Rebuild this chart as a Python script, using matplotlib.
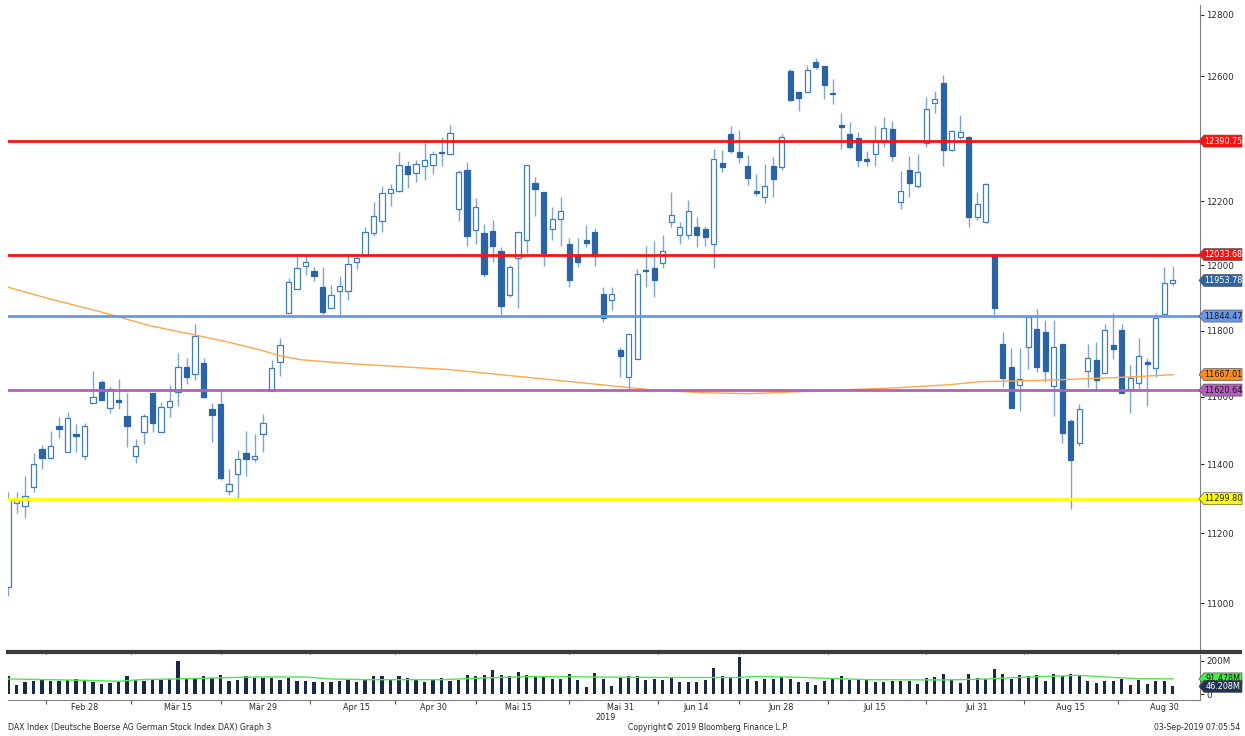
import numpy as np
import pandas as pd
import matplotlib.pyplot as plt
import matplotlib.transforms as mtransforms
from matplotlib.lines import Line2D
from matplotlib.patches import Polygon
from matplotlib.ticker import FixedLocator, NullLocator, FixedFormatter

# trading days in the chart (15 Feb - 2 Sep 2019, Xetra holidays removed)
dates = pd.bdate_range("2019-02-15", "2019-09-02")
dates = dates.drop(pd.to_datetime(["2019-04-19", "2019-04-22", "2019-05-01", "2019-06-10"]))

opens = [11045, 11288, 11278, 11335, 11447, 11418, 11513, 11438, 11489, 11424,
         11582, 11645, 11567, 11591, 11543, 11424, 11496, 11612, 11496, 11570,
         11615, 11690, 11670, 11703, 11564, 11579, 11323, 11371, 11435, 11415,
         11489, 11618, 11706, 11853, 11926, 11997, 11982, 11932, 11868, 11920,
         11920, 12012, 12031, 12100, 12137, 12226, 12232, 12310, 12290, 12313,
         12316, 12355, 12348, 12175, 12300, 12109, 12100, 12106, 12046, 11909,
         12022, 12078, 12258, 12229, 12112, 12143, 12065, 12031, 12078, 12103,
         11912, 11893, 11742, 11661, 11715, 11985, 11991, 12006, 12134, 12093,
         12093, 12121, 12112, 12068, 12320, 12413, 12355, 12310, 12232, 12213,
         12310, 12307, 12616, 12549, 12549, 12645, 12632, 12546, 12443, 12414,
         12401, 12333, 12349, 12388, 12430, 12197, 12300, 12248, 12385, 12513,
         12577, 12362, 12404, 12404, 12150, 12134, 12033.68, 11760, 11691, 11636,
         11751, 11806, 11797, 11633, 11760, 11527, 11462, 11679, 11712, 11673,
         11757, 11803, 11624, 11642, 11706, 11688, 11850, 11945]
highs = [11320, 11318, 11366, 11435, 11456, 11500, 11540, 11555, 11519, 11522,
         11678, 11651, 11630, 11654, 11612, 11474, 11549, 11612, 11585, 11636,
         11732, 11717, 11821, 11718, 11582, 11624, 11388, 11444, 11500, 11491,
         11549, 11712, 11778, 11962, 12034, 12028, 11994, 11994, 11941, 11967,
         12034, 12034, 12118, 12197, 12248, 12255, 12355, 12326, 12329, 12384,
         12358, 12404, 12441, 12300, 12323, 12210, 12128, 12140, 12056, 12000,
         12103, 12316, 12277, 12229, 12181, 12213, 12084, 12084, 12125, 12115,
         11935, 11935, 11751, 11791, 11988, 12059, 12075, 12096, 12228, 12134,
         12203, 12150, 12124, 12365, 12361, 12440, 12427, 12345, 12287, 12319,
         12339, 12413, 12622, 12549, 12636, 12658, 12632, 12591, 12481, 12453,
         12420, 12358, 12440, 12467, 12456, 12297, 12342, 12349, 12533, 12552,
         12603, 12427, 12475, 12407, 12229, 12258, 12034, 11795, 11748, 11748,
         11841, 11865, 11833, 11833, 11760, 11533, 11579, 11760, 11766, 11821,
         11853, 11821, 11697, 11778, 11718, 11853, 11994, 11997]
lows = [11020, 11258, 11244, 11320, 11388, 11415, 11477, 11436, 11438, 11412,
        11582, 11591, 11553, 11564, 11451, 11403, 11459, 11496, 11496, 11540,
        11573, 11639, 11651, 11597, 11465, 11355, 11312, 11303, 11365, 11406,
        11438, 11618, 11664, 11853, 11926, 11970, 11953, 11850, 11868, 11841,
        11894, 11988, 12031, 12090, 12103, 12184, 12229, 12242, 12261, 12268,
        12287, 12310, 12348, 12138, 12059, 12065, 11963, 12012, 11844, 11903,
        11868, 12037, 12153, 11997, 12078, 12059, 11935, 11994, 12056, 11997,
        11826, 11862, 11661, 11624, 11715, 11935, 11903, 11991, 12121, 12068,
        12081, 12056, 12059, 11991, 12294, 12352, 12320, 12252, 12216, 12194,
        12213, 12300, 12520, 12487, 12549, 12622, 12526, 12510, 12365, 12365,
        12307, 12313, 12310, 12371, 12326, 12175, 12213, 12242, 12371, 12481,
        12310, 12358, 12398, 12118, 12140, 12131, 11841, 11630, 11567, 11558,
        11685, 11676, 11646, 11544, 11462, 11271, 11453, 11630, 11624, 11673,
        11715, 11611, 11552, 11624, 11573, 11661, 11850, 11938]
closes = [11299.80, 11300, 11308, 11400, 11418, 11453, 11504, 11537, 11483, 11513,
          11600, 11591, 11624, 11585, 11513, 11453, 11543, 11522, 11570, 11588,
          11690, 11660, 11785, 11600, 11546, 11361, 11344, 11415, 11415, 11424,
          11522, 11687, 11755, 11950, 11991, 12012, 11967, 11856, 11909, 11938,
          12003, 12024, 12103, 12153, 12226, 12239, 12316, 12287, 12319, 12332,
          12348, 12352, 12418, 12291, 12090, 12181, 11975, 12059, 11874, 11994,
          12103, 12316, 12239, 12040, 12146, 12168, 11956, 12012, 12071, 12028,
          11838, 11912, 11724, 11791, 11975, 11982, 11954, 12046, 12156, 12118,
          12168, 12096, 12087, 12335, 12307, 12358, 12339, 12274, 12226, 12248,
          12271, 12404, 12523, 12529, 12619, 12629, 12571, 12543, 12437, 12371,
          12329, 12326, 12391, 12434, 12342, 12232, 12258, 12294, 12494, 12526,
          12362, 12424, 12420, 12150, 12191, 12255, 11869, 11658, 11567, 11654,
          11841, 11691, 11679, 11751, 11494, 11412, 11565, 11718, 11651, 11803,
          11745, 11611, 11658, 11724, 11700, 11838, 11945, 11953.78]
volumes_m = [111, 57, 73, 77, 87, 77, 81, 83, 91, 87, 75, 61, 67, 71, 107, 87, 77, 91, 85, 91,
             202, 93, 93, 107, 97, 117, 81, 87, 107, 97, 97, 97, 83, 97, 81, 77, 71, 71, 73, 79,
             93, 71, 87, 107, 111, 83, 111, 97, 91, 73, 83, 97, 81, 87, 115, 107, 117, 147, 115, 111,
             131, 117, 111, 111, 93, 93, 123, 87, 42, 127, 93, 46, 103, 107, 111, 87, 91, 83, 97, 71,
             71, 71, 87, 158, 107, 101, 222, 91, 77, 91, 91, 103, 93, 73, 71, 57, 81, 93, 111, 83,
             83, 83, 73, 73, 77, 77, 81, 61, 97, 101, 123, 83, 67, 123, 97, 91, 152, 123, 91, 115,
             111, 115, 81, 123, 111, 123, 117, 77, 67, 77, 77, 91, 57, 83, 63, 81, 81, 46.208]

# 200-day average (orange) read at a few positions
ma_idx = [0, 4.9, 10.8, 16.7, 21.8, 26.1, 29.6, 32, 34.4, 40.2, 46.1, 52, 57.9, 63.8,
          69.6, 75.5, 81.4, 87.3, 93.2, 99.1, 104.9, 110.8, 114.4, 120.2, 124.1, 132, 137]
ma_val = [11933, 11897, 11858, 11815, 11788, 11764, 11742, 11724, 11712, 11700, 11691,
          11682, 11667, 11652, 11637, 11622, 11613, 11610, 11616, 11622, 11628, 11637,
          11646, 11649, 11652, 11660, 11667.01]
# volume average (green)
vma_idx = [0, 9, 13, 15.5, 21, 29, 35, 38, 42, 51, 56, 61, 65, 73, 80, 86, 88, 93,
           101, 110, 115, 119, 126, 129, 133, 137]
vma_val = [91, 83, 77, 87, 93, 103, 103, 91, 87, 87, 97, 105, 105, 101, 100, 100, 107,
           101, 87, 85, 91, 101, 113, 103, 93, 91.478]

level_values = [12390.75, 12033.68, 11844.47, 11620.64, 11299.80]
level_colors = ["#ff1010", "#ff1010", "#6a98e8", "#b85cbf", "#ffff00"]

tag_values = [12390.75, 12033.68, 11953.78, 11844.47, 11667.01, 11620.64, 11299.80]
tag_colors = ["#ff1010", "#ff1010", "#2c64a4", "#6a98e8", "#ff8c1a", "#b85cbf", "#ffff00"]
tag_text_colors = ["white", "white", "white", "#1a1a1a", "#1a1a1a", "#1a1a1a", "#1a1a1a"]
vol_tag_values = [91.478, 46.208]
vol_tag_colors = ["#44ee44", "#1f3553"]
vol_tag_text_colors = ["#1a1a1a", "white"]

price_ticks = [11000, 11200, 11400, 11600, 11800, 12000, 12200, 12400, 12600, 12800]
# 12400 sits under the 12390.75 tag and is not shown
price_tick_labels = ["11000", "11200", "11400", "11600", "11800", "12000", "12200", "",
                     "12600", "12800"]
label_dates = ["2019-02-28", "2019-03-15", "2019-03-29", "2019-04-15", "2019-04-30",
               "2019-05-15", "2019-05-31", "2019-06-14", "2019-06-28", "2019-07-15",
               "2019-07-31", "2019-08-15", "2019-08-30"]
label_text = ["Feb 28", "Mär 15", "Mär 29", "Apr 15", "Apr 30", "Mai 15", "Mai 31",
              "Jun 14", "Jun 28", "Jul 15", "Jul 31", "Aug 15", "Aug 30"]

W, H = 1245, 736
plt.rcParams['font.family'] = ['DejaVu Sans']
FS = 6.5
TXT = "#2a2a2a"
NARROW = dict(fontstretch='condensed')


def fx(px):
    return px / W


def fy(py):
    return 1 - py / H


def main():
    o = np.array(opens, float)
    c = np.array(closes, float)
    hi = np.array(highs, float)
    lo = np.array(lows, float)
    x = np.arange(len(c))
    up = c >= o
    body_lo = np.minimum(o, c)
    body_h = np.abs(c - o)

    fig = plt.figure(figsize=(W / 100, H / 100), dpi=100)
    ax = fig.add_axes([fx(8), fy(651), fx(1200) - fx(8), fy(5) - fy(651)])
    axv = fig.add_axes([fx(8), fy(700), fx(1200) - fx(8), fy(655) - fy(700)], sharex=ax)

    ax.set_yscale('log')
    ax.set_ylim(10865, 12833)
    ax.set_xlim(0, 140.2)

    # candles
    ax.vlines(x, lo, hi, color="#7aa5d5", lw=1, zorder=2)
    ax.bar(x[up], body_h[up], bottom=body_lo[up], width=0.62, facecolor="white",
           edgecolor="#3f7cc0", lw=0.9, zorder=3)
    ax.bar(x[~up], body_h[~up], bottom=body_lo[~up], width=0.62, facecolor="#2b64a4",
           edgecolor="#2b64a4", lw=0.9, zorder=3)

    ax.plot(ma_idx, ma_val, color="#ffa64d", lw=1, zorder=4)
    for v, col in zip(level_values, level_colors):
        ax.axhline(v, color=col, lw=2, zorder=5)

    ax.yaxis.set_major_locator(FixedLocator(price_ticks))
    ax.yaxis.set_major_formatter(FixedFormatter(price_tick_labels))
    ax.yaxis.set_minor_locator(NullLocator())
    ax.yaxis.tick_right()
    ax.tick_params(axis='y', which='major', direction='out', length=3, width=0.8,
                   color="#333333", labelsize=6.3, labelcolor=TXT, pad=1.5)
    ax.tick_params(axis='x', bottom=False, labelbottom=False)
    for s in ['top', 'left', 'bottom']:
        ax.spines[s].set_visible(False)
    ax.spines['right'].set_color("#808080")

    # volume panel
    axv.bar(x, volumes_m, width=0.38, color="#1b2a44", zorder=2)
    axv.plot(vma_idx, vma_val, color="#4de84d", lw=1, zorder=3)
    axv.set_ylim(-36, 236)
    axv.yaxis.tick_right()
    axv.set_yticks([0, 200], labels=["0", "200M"])
    axv.tick_params(axis='y', direction='out', length=3, width=0.8, color="#333333",
                    labelsize=6.3, labelcolor=TXT, pad=1.5)
    label_idx = [dates.get_loc(pd.Timestamp(d)) for d in label_dates]
    mids = [(a + b) / 2 for a, b in zip([0] + label_idx[:-1], label_idx)]
    axv.set_xticks(label_idx, labels=label_text, **NARROW)
    axv.set_xticks(mids, minor=True)
    axv.tick_params(axis='x', which='major', length=0, pad=2.5, labelsize=FS, labelcolor=TXT)
    axv.tick_params(axis='x', which='minor', length=3, width=0.8, color="#555555", direction='out')
    for s in ['top', 'left']:
        axv.spines[s].set_visible(False)
    axv.spines['right'].set_color("#808080")
    axv.spines['bottom'].set_color("#808080")

    # separator between panels
    fig.add_artist(Line2D([fx(8), fx(1240)], [fy(652), fy(652)], lw=3, color="#3c3c3c"))

    # value tags on the right axis
    ident = mtransforms.IdentityTransform()

    def tag(axis, v, fc, tc, s):
        py = axis.transData.transform((0, v))[1]
        pts = [(1199, py), (1204, py + 6), (1242, py + 6), (1242, py - 6), (1204, py - 6)]
        fig.add_artist(Polygon(pts, closed=True, transform=ident, fc=fc, ec="#555555",
                               lw=0.5, zorder=5))
        fig.text(1223, py, s, transform=ident, ha='center', va='center', fontsize=FS,
                 color=tc, zorder=6, **NARROW)

    for v, fc, tc in zip(tag_values, tag_colors, tag_text_colors):
        tag(ax, v, fc, tc, f"{v:.2f}")
    for v, fc, tc in zip(vol_tag_values, vol_tag_colors, vol_tag_text_colors):
        tag(axv, v, fc, tc, f"{v:.3f}M")

    fig.text(fx(606), fy(717), "2019", ha='center', va='center', fontsize=FS, color=TXT,
             **NARROW)
    fig.text(fx(8), fy(728), "DAX Index (Deutsche Boerse AG German Stock Index DAX) Graph 3",
             ha='left', va='center', fontsize=6.2, color=TXT, **NARROW)
    fig.text(fx(708), fy(728), "Copyright\u00a9 2019 Bloomberg Finance L.P.",
             ha='center', va='center', fontsize=6.2, color=TXT, **NARROW)
    fig.text(fx(1240), fy(728), "03-Sep-2019 07:05:54", ha='right', va='center',
             fontsize=6.2, color=TXT, **NARROW)

    fig.savefig("out.png", dpi=100)


if __name__ == "__main__":
    main()
